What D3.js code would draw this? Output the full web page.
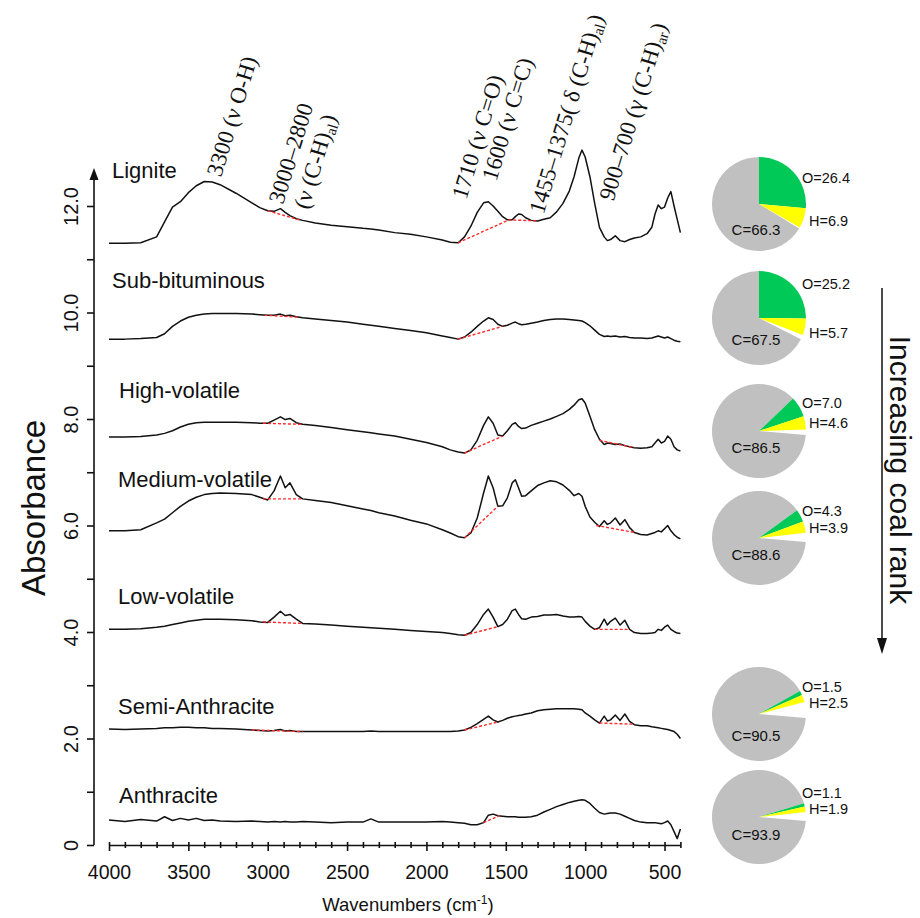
<!DOCTYPE html>
<html>
<head>
<meta charset="utf-8">
<script src="https://cdn.jsdelivr.net/npm/d3@7"></script>
<style>
  body { margin: 0; background: #fff; }
  svg { display: block; }
  text { font-family: "Liberation Sans", Arial, sans-serif; fill: #111; }
  .note text { font-family: "Liberation Serif", "Times New Roman", serif; }
</style>
</head>
<body>
<svg id="chart" width="920" height="918"></svg>
<script>
// ---- shared wavenumber grid (cm-1) ----
const wavenumber = [4000,3900,3800,3700,3650,3600,3550,3500,3450,3400,3350,3300,3200,3100,3050,3000,
  2960,2920,2890,2860,2820,2780,2700,2600,2500,2400,2350,2300,2200,2100,2000,1900,1850,1800,1760,1720,
  1680,1640,1610,1580,1550,1520,1490,1460,1440,1420,1400,1375,1340,1300,1260,1220,1180,1140,1100,1070,
  1040,1020,1000,970,940,910,880,860,840,810,780,750,720,690,650,610,580,560,540,520,500,480,460,440,420,400];

// ---- offset absorbance spectra, one per coal rank ----
const lignite = [11.30,11.30,11.31,11.42,11.70,11.98,12.08,12.25,12.38,12.46,12.45,12.40,12.24,12.06,11.97,11.91,
  11.90,11.95,11.88,11.82,11.76,11.73,11.68,11.64,11.61,11.58,11.57,11.55,11.50,11.47,11.42,11.36,11.32,11.31,11.42,11.62,
  11.88,12.06,12.08,12.00,11.90,11.80,11.74,11.74,11.80,11.85,11.84,11.78,11.73,11.72,11.75,11.78,11.89,12.05,12.28,12.55,
  12.90,13.05,12.92,12.55,12.05,11.60,11.42,11.35,11.37,11.44,11.35,11.33,11.37,11.40,11.42,11.48,11.60,11.85,12.02,11.95,
  11.98,12.15,12.27,12.00,11.75,11.50];
const subBituminous = [9.50,9.50,9.51,9.53,9.60,9.74,9.84,9.91,9.95,9.97,9.98,9.98,9.98,9.97,9.96,9.95,
  9.95,9.97,9.94,9.95,9.92,9.90,9.88,9.85,9.82,9.78,9.76,9.74,9.70,9.66,9.62,9.56,9.53,9.50,9.54,9.63,
  9.74,9.84,9.90,9.87,9.78,9.74,9.76,9.80,9.82,9.79,9.77,9.78,9.80,9.82,9.85,9.87,9.88,9.88,9.87,9.86,
  9.85,9.84,9.81,9.75,9.67,9.59,9.55,9.56,9.55,9.56,9.54,9.55,9.53,9.52,9.52,9.51,9.52,9.54,9.56,9.54,
  9.52,9.54,9.51,9.48,9.46,9.45];
const highVolatile = [7.66,7.66,7.67,7.70,7.73,7.78,7.85,7.90,7.93,7.94,7.94,7.94,7.94,7.93,7.92,7.92,
  7.98,8.04,7.99,8.01,7.93,7.90,7.88,7.84,7.80,7.76,7.74,7.72,7.68,7.62,7.56,7.48,7.42,7.38,7.36,7.42,
  7.60,7.88,8.04,7.92,7.70,7.68,7.78,7.90,7.93,7.86,7.82,7.83,7.88,7.92,7.96,8.00,8.05,8.10,8.18,8.26,
  8.36,8.38,8.30,8.05,7.80,7.62,7.52,7.55,7.54,7.52,7.53,7.50,7.48,7.46,7.45,7.46,7.48,7.55,7.62,7.55,
  7.58,7.68,7.62,7.48,7.42,7.40];
const mediumVolatile = [5.90,5.90,5.92,6.05,6.12,6.24,6.36,6.46,6.53,6.58,6.60,6.61,6.60,6.58,6.53,6.48,
  6.65,6.93,6.71,6.80,6.58,6.50,6.47,6.43,6.37,6.31,6.28,6.24,6.18,6.10,6.03,5.92,5.86,5.79,5.77,5.86,
  6.14,6.61,6.93,6.71,6.36,6.37,6.52,6.80,6.86,6.71,6.55,6.56,6.65,6.75,6.80,6.84,6.82,6.76,6.66,6.56,
  6.60,6.55,6.36,6.16,6.06,5.98,6.09,6.02,6.05,6.14,6.01,6.11,5.96,5.87,5.83,5.82,5.85,5.87,5.90,5.88,
  5.94,6.00,5.90,5.83,5.78,5.75];
const lowVolatile = [4.05,4.05,4.06,4.09,4.11,4.14,4.17,4.20,4.22,4.24,4.24,4.24,4.23,4.21,4.19,4.18,
  4.28,4.39,4.31,4.33,4.24,4.16,4.15,4.13,4.11,4.09,4.08,4.07,4.05,4.03,4.01,3.99,3.97,3.95,3.94,3.99,
  4.14,4.33,4.43,4.28,4.10,4.14,4.24,4.40,4.43,4.33,4.25,4.24,4.28,4.29,4.32,4.32,4.33,4.30,4.28,4.28,
  4.29,4.28,4.20,4.11,4.05,4.08,4.24,4.13,4.20,4.26,4.13,4.22,4.05,3.99,3.97,3.97,3.98,3.99,4.05,4.03,
  4.09,4.13,4.05,4.01,3.98,3.97];
const semiAnthracite = [2.18,2.17,2.18,2.19,2.20,2.20,2.21,2.21,2.20,2.20,2.19,2.19,2.18,2.16,2.15,2.14,
  2.15,2.17,2.14,2.15,2.13,2.13,2.13,2.13,2.13,2.13,2.14,2.13,2.13,2.13,2.13,2.13,2.13,2.14,2.16,2.21,
  2.28,2.36,2.42,2.35,2.31,2.34,2.38,2.41,2.42,2.43,2.44,2.46,2.48,2.52,2.54,2.55,2.56,2.56,2.56,2.56,
  2.55,2.54,2.48,2.42,2.35,2.29,2.42,2.33,2.35,2.44,2.34,2.46,2.32,2.26,2.24,2.24,2.22,2.21,2.20,2.19,
  2.18,2.17,2.15,2.13,2.08,2.00];
const anthracite = [0.47,0.44,0.48,0.45,0.53,0.46,0.50,0.47,0.50,0.46,0.47,0.45,0.44,0.45,0.44,0.43,
  0.44,0.43,0.44,0.43,0.43,0.44,0.43,0.42,0.43,0.43,0.49,0.43,0.43,0.43,0.43,0.44,0.43,0.42,0.41,0.38,
  0.38,0.42,0.56,0.58,0.55,0.54,0.53,0.53,0.53,0.52,0.52,0.52,0.53,0.56,0.62,0.67,0.72,0.76,0.80,0.82,
  0.84,0.85,0.84,0.78,0.69,0.61,0.58,0.59,0.60,0.60,0.58,0.54,0.50,0.46,0.43,0.42,0.42,0.42,0.41,0.40,
  0.42,0.45,0.38,0.25,0.12,0.30];

const rankNames = ["Lignite", "Sub-bituminous", "High-volatile", "Medium-volatile",
                   "Low-volatile", "Semi-Anthracite", "Anthracite"];
const spectra = [lignite, subBituminous, highVolatile, mediumVolatile, lowVolatile, semiAnthracite, anthracite];

// local baselines under the band groups (red dashed), [wavenumber, absorbance]
const bandBaselines = [
  [[[3000, 11.91], [2800, 11.74]], [[1800, 11.31], [1480, 11.74], [1300, 11.72]]],
  [[[3020, 9.95], [2800, 9.91]], [[1800, 9.50], [1520, 9.74]]],
  [[[3030, 7.92], [2780, 7.90]], [[1760, 7.36], [1520, 7.68]], [[910, 7.60], [690, 7.46]]],
  [[[3030, 6.50], [2780, 6.50]], [[1760, 5.77], [1550, 6.36]], [[930, 6.00], [690, 5.87]]],
  [[[3030, 4.19], [2780, 4.16]], [[1760, 3.94], [1550, 4.10]], [[940, 4.05], [720, 4.05]]],
  [[[3100, 2.16], [2780, 2.13]], [[1760, 2.16], [1550, 2.31]], [[910, 2.29], [700, 2.27]]],
  [[[1640, 0.42], [1540, 0.55]]]
];

// elemental composition (wt%) shown as pies
const pieRanks = ["Lignite", "Sub-bituminous", "High-volatile", "Medium-volatile", "Semi-Anthracite", "Anthracite"];
const carbonPct = [66.3, 67.5, 86.5, 88.6, 90.5, 93.9];
const hydrogenPct = [6.9, 5.7, 4.6, 3.9, 2.5, 1.9];
const oxygenPct = [26.4, 25.2, 7.0, 4.3, 1.5, 1.1];

// axis ticks
const xMinorTicks = d3.range(4000, 399, -100);
const xLabelTicks = [4000, 3500, 3000, 2500, 2000, 1500, 1000, 500];
const yTicks = d3.range(0, 13, 1);
const yLabelTicks = [0, 2, 4, 6, 8, 10, 12];

// band assignments, anchored at [wavenumber, absorbance]
const bandNotes = [
  { at: [3294, 12.53], parts: [["3300 (ν O-H)"]] },
  { at: [2903, 12.02], parts: [["3000–2800"]] },
  { at: [2745, 11.92], parts: [["(ν (C-H)"], ["al", "sub"], [")"]] },
  { at: [1749, 12.11], parts: [["1710 (ν C=O)"]] },
  { at: [1560, 12.45], parts: [["1600 (ν C=C)"]] },
  { at: [1263, 11.83], parts: [["1455–1375( δ (C-H)"], ["al", "sub"], [")"]] },
  { at: [822, 12.08], parts: [["900–700 (γ (C-H)"], ["ar", "sub"], [")"]] }
];

// ---- layout ----
const svg = d3.select("#chart");
const x = d3.scaleLinear().domain([4000, 400]).range([109, 680.4]);
const y = d3.scaleLinear().domain([0, 12]).range([845, 206]);

const nameX = [112, 112, 119, 118, 118, 118, 119];
const nameLevel = [12.52, 10.46, 8.39, 6.72, 4.52, 2.46, 0.79];
const pieCx = 759, pieR = 47;
const pieCy = [204, 318, 431, 538, 714, 817];
const oLabelDy = [-21, -29, -23, -22, -22, -19];
const hLabelDy = [22, 20, -3, -5, -6, -3];
const cLabelDy = [31, 27, 22, 22, 27, 23];

// ---- x axis ----
const xAxis = svg.append("g").attr("transform", "translate(0,845)")
  .call(d3.axisBottom(x).tickValues(xMinorTicks).tickSizeOuter(0)
    .tickFormat(d => xLabelTicks.includes(d) ? d : ""));
xAxis.select(".domain").attr("stroke", "#111").attr("stroke-width", 1.6);
xAxis.selectAll(".tick line").attr("stroke", "#111").attr("stroke-width", 1.6)
  .attr("y1", -3).attr("y2", d => xLabelTicks.includes(d) ? 6 : 3);
xAxis.selectAll(".tick text").attr("y", 34).attr("dy", 0)
  .style("font-size", "19.5px").style("font-family", "Liberation Sans, Arial, sans-serif").attr("fill", "#111");

const xTitle = svg.append("text").attr("x", 408).attr("y", 911).attr("text-anchor", "middle")
  .style("font-size", "18.5px");
xTitle.append("tspan").text("Wavenumbers (cm");
xTitle.append("tspan").attr("dy", -7).style("font-size", "12px").text("-1");
xTitle.append("tspan").attr("dy", 7).text(")");

// ---- y axis ----
const yAxis = svg.append("g").attr("transform", "translate(94,0)")
  .call(d3.axisLeft(y).tickValues(yTicks).tickSize(7).tickSizeOuter(0)
    .tickFormat(d => yLabelTicks.includes(d) ? (d === 0 ? "0" : d.toFixed(1)) : ""));
yAxis.select(".domain").remove();
yAxis.selectAll(".tick line").attr("stroke", "#111").attr("stroke-width", 1.6);
yAxis.selectAll(".tick text").attr("transform", "rotate(-90)")
  .attr("x", 0).attr("y", -16).attr("dy", 0).attr("text-anchor", "middle")
  .style("font-size", "20px").style("font-family", "Liberation Sans, Arial, sans-serif").attr("fill", "#111");
svg.append("line").attr("x1", 94).attr("x2", 94).attr("y1", y(0)).attr("y2", 178)
  .attr("stroke", "#111").attr("stroke-width", 1.6);
svg.append("path").attr("d", "M94,168 L89.5,180 L98.5,180 Z").attr("fill", "#111");

svg.append("text").attr("transform", "translate(45,508) rotate(-90)")
  .attr("text-anchor", "middle").style("font-size", "33px").text("Absorbance");

// ---- spectra ----
const line = d3.line().x((d, i) => x(wavenumber[i])).y(d => y(d));
const dashLine = d3.line().x(d => x(d[0])).y(d => y(d[1]));

spectra.forEach((s, k) => {
  svg.append("path").datum(s).attr("d", line).attr("fill", "none")
    .attr("stroke", "#111").attr("stroke-width", 1.5).attr("stroke-linejoin", "round");
  bandBaselines[k].forEach(seg => {
    svg.append("path").datum(seg).attr("d", dashLine).attr("fill", "none")
      .attr("stroke", "#ff2a2a").attr("stroke-width", 1.4).attr("stroke-dasharray", "3,2");
  });
  svg.append("text").attr("x", nameX[k]).attr("y", y(nameLevel[k]))
    .style("font-size", "22px").text(rankNames[k]);
});

// ---- band assignment notes ----
const notes = svg.append("g").attr("class", "note");
bandNotes.forEach(n => {
  const t = notes.append("text")
    .attr("transform", `translate(${x(n.at[0])},${y(n.at[1])}) rotate(-73)`)
    .style("font-size", "23px");
  let shifted = false;
  n.parts.forEach(p => {
    const ts = t.append("tspan").text(p[0]);
    if (p[1] === "sub") { ts.attr("dy", 4).style("font-size", "15px"); shifted = true; }
    else if (shifted) { ts.attr("dy", -4); shifted = false; }
  });
});

// ---- composition pies ----
const arc = d3.arc().innerRadius(0).outerRadius(pieR);
const rad = Math.PI / 180;
carbonPct.forEach((c, i) => {
  const cSpan = c * 3.6, oSpan = oxygenPct[i] * 3.6, hSpan = hydrogenPct[i] * 3.6;
  // carbon ends at 12 o'clock when O+H are wide, otherwise starts just below 3 o'clock
  const cStart = Math.max(95, 360 - cSpan);
  const slices = [
    { a0: cStart, a1: cStart + cSpan, fill: "#c0c0c0" },
    { a0: cStart + cSpan, a1: cStart + cSpan + oSpan, fill: "#00c957" },
    { a0: cStart + cSpan + oSpan, a1: cStart + cSpan + oSpan + hSpan, fill: "#ffff00" }
  ];
  const g = svg.append("g").attr("transform", `translate(${pieCx},${pieCy[i]})`);
  g.selectAll("path").data(slices).join("path")
    .attr("d", d => arc({ startAngle: d.a0 * rad, endAngle: d.a1 * rad }))
    .attr("fill", d => d.fill);
  g.append("text").attr("x", 43).attr("y", oLabelDy[i]).style("font-size", "14.5px")
    .text("O=" + oxygenPct[i].toFixed(1));
  g.append("text").attr("x", 50).attr("y", hLabelDy[i]).style("font-size", "14.5px")
    .text("H=" + hydrogenPct[i].toFixed(1));
  g.append("text").attr("x", -3).attr("y", cLabelDy[i]).attr("text-anchor", "middle")
    .style("font-size", "15px").text("C=" + c.toFixed(1));
});

// ---- rank arrow ----
svg.append("line").attr("x1", 882).attr("x2", 882).attr("y1", 288).attr("y2", 640)
  .attr("stroke", "#111").attr("stroke-width", 1.5);
svg.append("path").attr("d", "M882,654 L877,638 L887,638 Z").attr("fill", "#111");
svg.append("text").attr("transform", "translate(890,470) rotate(90)")
  .attr("text-anchor", "middle").style("font-size", "30px").text("Increasing coal rank");
</script>
</body>
</html>
